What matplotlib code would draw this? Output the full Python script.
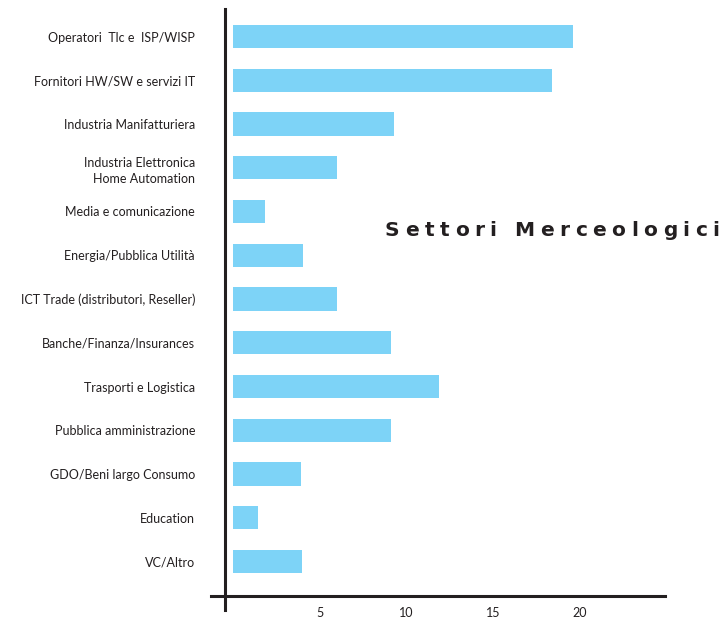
import matplotlib
matplotlib.use('Agg')
import matplotlib.pyplot as plt

plt.rcParams['font.family'] = ['Lato', 'DejaVu Sans']

categories = ['Operatori  Tlc e  ISP/WISP', 'Fornitori HW/SW e servizi IT',
              'Industria Manifatturiera', 'Industria Elettronica\nHome Automation',
              'Media e comunicazione', 'Energia/Pubblica Utilità',
              'ICT Trade (distributori, Reseller)', 'Banche/Finanza/Insurances',
              'Trasporti e Logistica', 'Pubblica amministrazione',
              'GDO/Beni largo Consumo', 'Education', 'VC/Altro']
values = [19.6, 18.4, 9.3, 6.0, 1.85, 4.05, 6.0, 9.1, 11.9, 9.1, 3.9, 1.45, 4.0]
xticks = [5, 10, 15, 20]

W, H = 724, 620
fig = plt.figure(figsize=(W / 100, H / 100), dpi=100)

# pixel layout of the plot area
x0_px, x_unit = 233.0, 17.33       # pixel of value 0, pixels per unit
y0_px, y_step = 36.5, 43.75        # centre of first bar, spacing
left, right, top, bottom = 205, 672, 5, 617

ax = fig.add_axes([left / W, 1 - bottom / H, (right - left) / W, (bottom - top) / H])

def px_x(p):
    return (p - x0_px) / x_unit

def px_y(p):
    return (p - y0_px) / y_step

color = '#7dd3f7'
ink = '#231f20'
ypos = list(range(len(categories)))
ax.barh(ypos, values, height=0.526, color=color, left=0)

ax.set_xlim(px_x(left), px_x(right))
ax.set_ylim(px_y(bottom), px_y(top))

for s in ['top', 'right']:
    ax.spines[s].set_visible(False)
ax.spines['left'].set_position(('data', px_x(224.5)))
ax.spines['left'].set_bounds(px_y(610), px_y(9))
ax.spines['bottom'].set_position(('data', px_y(595.5)))
ax.spines['bottom'].set_bounds(px_x(211), px_x(665))
for s in ['left', 'bottom']:
    ax.spines[s].set_linewidth(2.2)
    ax.spines[s].set_color(ink)

ax.set_xticks(xticks)
ax.set_xticklabels([str(t) for t in xticks])
ax.tick_params(axis='x', length=0, pad=8.5, labelsize=9, colors=ink)
ax.set_yticks(ypos)
ax.set_yticklabels(categories, fontsize=9, linespacing=1.4)
# labels end at 195 px, spine at 224.5 px
ax.tick_params(axis='y', length=0, pad=(224.5 - 195) * 72 / 100, colors=ink)

# title with letter spacing
fig.canvas.draw()
renderer = fig.canvas.get_renderer()
title = 'Settori Merceologici'
x = 385
for ch in title:
    t = fig.text(x / W, 1 - 231 / H, ch, fontsize=14.5, fontweight='bold',
                 color=ink, va='center', ha='left', family=['DejaVu Sans'])
    if ch == ' ':
        w = 7
    else:
        w = t.get_window_extent(renderer).width
    x += w + 5.5

fig.savefig('out.png', dpi=100)
